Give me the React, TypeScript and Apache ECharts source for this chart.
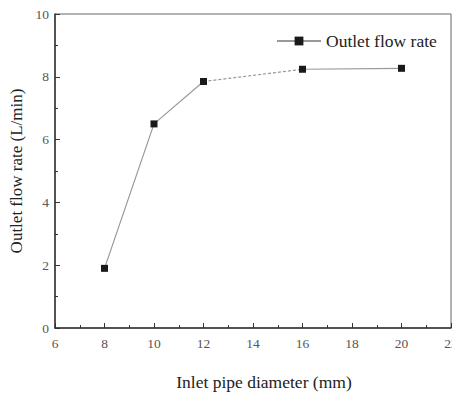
import React, { useEffect, useRef } from "react";
import * as echarts from "echarts";

const diameters = [8, 10, 12, 16, 20];
const flowRates = [1.9, 6.5, 7.85, 8.24, 8.27];
const seriesName = "Outlet flow rate";
const xTitle = "Inlet pipe diameter (mm)";
const yTitle = "Outlet flow rate (L/min)";

export default function App() {
  const ref = useRef<HTMLDivElement>(null);
  useEffect(() => {
    if (!ref.current) return;
    const chart = echarts.init(ref.current, undefined, { renderer: "svg" });
    const pts = diameters.map((d, i) => [d, flowRates[i]]);
    // solid segments: 8-10-12 and 16-20; dashed 12-16
    const solid: any[] = [pts[0], pts[1], pts[2], [14, "-"], pts[3], pts[4]];
    const dashed = [pts[2], pts[3]];
    const font = "Liberation Serif";
    chart.setOption({
      animation: false,
      backgroundColor: "#fff",
      textStyle: { fontFamily: font },
      grid: {
        left: 55,
        top: 14,
        right: 1,
        bottom: 66,
        outerBoundsMode: "none",
        containLabel: false,
        show: true,
        borderColor: "#666",
        borderWidth: 1,
      },
      legend: {
        data: [seriesName],
        left: 271,
        top: 27,
        itemWidth: 44,
        itemHeight: 11,
        itemGap: 4,
        textStyle: { fontFamily: font, fontSize: 17.5, color: "#222" },
      },
      xAxis: {
        type: "value",
        min: 6,
        max: 22,
        interval: 2,
        name: xTitle,
        nameLocation: "middle",
        nameGap: 45,
        nameTextStyle: { fontFamily: font, fontSize: 17.5, color: "#222", padding: [0, 0, 0, 22] },
        axisLine: { lineStyle: { color: "#333", width: 1.5 } },
        axisTick: { inside: true, length: 5, lineStyle: { color: "#333" } },
        minorTick: { show: true, splitNumber: 2, length: 3, lineStyle: { color: "#333" } },
        axisLabel: { fontFamily: font, fontSize: 13.5, color: "#555", margin: 8 },
        splitLine: { show: false },
      },
      yAxis: {
        type: "value",
        min: 0,
        max: 10,
        interval: 2,
        name: yTitle,
        nameLocation: "middle",
        nameGap: 28,
        nameTextStyle: { fontFamily: font, fontSize: 17, color: "#222" },
        axisLine: { lineStyle: { color: "#333", width: 1.5 } },
        axisTick: { inside: true, length: 5, lineStyle: { color: "#333" } },
        minorTick: { show: true, splitNumber: 2, length: 3, lineStyle: { color: "#333" } },
        axisLabel: { fontFamily: font, fontSize: 13.5, color: "#555", margin: 6 },
        splitLine: { show: false },
      },
      series: [
        {
          type: "line",
          name: "dashed",
          data: dashed,
          showSymbol: false,
          symbol: "none",
          lineStyle: { color: "#999", width: 1.2, type: [3, 2] },
          z: 1,
        },
        {
          type: "line",
          name: seriesName,
          data: solid,
          connectNulls: false,
          symbol: "rect",
          symbolSize: 7,
          itemStyle: { color: "#1a1a1a" },
          lineStyle: { color: "#999", width: 1.2 },
          z: 2,
        },
      ],
    });
    return () => chart.dispose();
  }, []);
  return (
    <div
      ref={ref}
      style={{ position: "fixed", left: 0, top: 0, width: 452, height: 394 }}
    />
  );
}
